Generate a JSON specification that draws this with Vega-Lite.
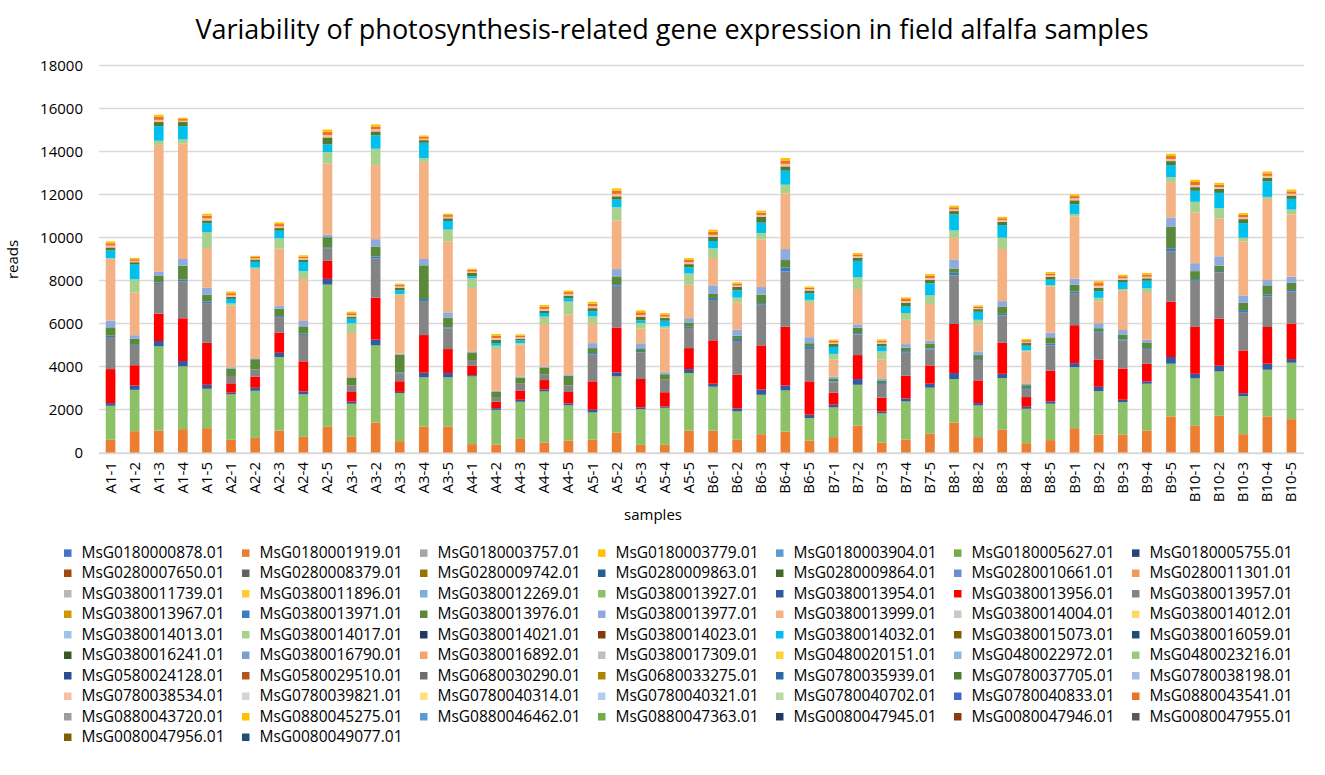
{
  "$schema": "https://vega.github.io/schema/vega-lite/v6.json",
  "description": "Variability of photosynthesis-related gene expression in field alfalfa samples",
  "width": 1205,
  "height": 387.5,
  "autosize": {"type": "none"},
  "padding": {"left": 98.5, "top": 65, "right": 21.5, "bottom": 322.5},
  "background": "white",
  "title": {
    "text": "Variability of photosynthesis-related gene expression in field alfalfa samples",
    "font": "Open Sans",
    "fontSize": 27,
    "fontWeight": "normal",
    "color": "#000000",
    "anchor": "middle",
    "frame": "group",
    "baseline": "alphabetic",
    "dx": -29,
    "offset": -8
  },
  "datasets": {
    "genes": [
      {"k": "g02", "gene": "MsG0180001919.01"},
      {"k": "g18", "gene": "MsG0380013927.01"},
      {"k": "g19", "gene": "MsG0380013954.01"},
      {"k": "g20", "gene": "MsG0380013956.01"},
      {"k": "g21", "gene": "MsG0380013957.01"},
      {"k": "g23", "gene": "MsG0380013971.01"},
      {"k": "g24", "gene": "MsG0380013976.01"},
      {"k": "g25", "gene": "MsG0380013977.01"},
      {"k": "g26", "gene": "MsG0380013999.01"},
      {"k": "g30", "gene": "MsG0380014017.01"},
      {"k": "g33", "gene": "MsG0380014032.01"},
      {"k": "g48", "gene": "MsG0780037705.01"},
      {"k": "g50", "gene": "MsG0780038534.01"},
      {"k": "g56", "gene": "MsG0880043541.01"},
      {"k": "g58", "gene": "MsG0880045275.01"}
    ]
  },
  "data": {
    "values": [
      {"s": "A1-1", "g02": 590, "g18": 1580, "g19": 125, "g20": 1580, "g21": 1490, "g23": 60, "g24": 390, "g25": 310, "g26": 2870, "g30": 30, "g33": 360, "g48": 140, "g50": 85, "g56": 110, "g58": 85},
      {"s": "A1-2", "g02": 990, "g18": 1920, "g19": 200, "g20": 945, "g21": 900, "g23": 45, "g24": 280, "g25": 170, "g26": 1980, "g30": 620, "g33": 680, "g48": 110, "g50": 60, "g56": 80, "g58": 60},
      {"s": "A1-3", "g02": 1010, "g18": 3920, "g19": 250, "g20": 1270, "g21": 1380, "g23": 60, "g24": 310, "g25": 200, "g26": 5890, "g30": 190, "g33": 680, "g48": 190, "g50": 100, "g56": 140, "g58": 100},
      {"s": "A1-4", "g02": 1085, "g18": 2915, "g19": 250, "g20": 1985, "g21": 1720, "g23": 75, "g24": 650, "g25": 310, "g26": 5360, "g30": 190, "g33": 620, "g48": 190, "g50": 60, "g56": 80, "g58": 60},
      {"s": "A1-5", "g02": 1130, "g18": 1830, "g19": 185, "g20": 1950, "g21": 1845, "g23": 75, "g24": 310, "g25": 340, "g26": 1830, "g30": 730, "g33": 430, "g48": 125, "g50": 95, "g56": 125, "g58": 90},
      {"s": "A2-1", "g02": 590, "g18": 2110, "g19": 80, "g20": 435, "g21": 340, "g23": 0, "g24": 325, "g25": 80, "g26": 2870, "g30": 90, "g33": 215, "g48": 90, "g50": 75, "g56": 100, "g58": 75},
      {"s": "A2-2", "g02": 680, "g18": 2185, "g19": 140, "g20": 525, "g21": 325, "g23": 0, "g24": 480, "g25": 45, "g26": 4150, "g30": 60, "g33": 265, "g48": 110, "g50": 50, "g56": 70, "g58": 50},
      {"s": "A2-3", "g02": 1020, "g18": 3410, "g19": 200, "g20": 945, "g21": 715, "g23": 45, "g24": 340, "g25": 125, "g26": 2665, "g30": 480, "g33": 355, "g48": 125, "g50": 80, "g56": 105, "g58": 80},
      {"s": "A2-4", "g02": 730, "g18": 1970, "g19": 140, "g20": 1395, "g21": 1225, "g23": 60, "g24": 340, "g25": 250, "g26": 1950, "g30": 370, "g33": 420, "g48": 110, "g50": 60, "g56": 80, "g58": 60},
      {"s": "A2-5", "g02": 1210, "g18": 6590, "g19": 265, "g20": 835, "g21": 590, "g23": 45, "g24": 465, "g25": 125, "g26": 3300, "g30": 530, "g33": 355, "g48": 325, "g50": 110, "g56": 150, "g58": 110},
      {"s": "A3-1", "g02": 745, "g18": 1520, "g19": 95, "g20": 450, "g21": 310, "g23": 0, "g24": 355, "g25": 30, "g26": 2045, "g30": 450, "g33": 215, "g48": 95, "g50": 70, "g56": 90, "g58": 70},
      {"s": "A3-2", "g02": 1395, "g18": 3580, "g19": 265, "g20": 1955, "g21": 1815, "g23": 95, "g24": 465, "g25": 340, "g26": 3440, "g30": 760, "g33": 620, "g48": 185, "g50": 100, "g56": 130, "g58": 95},
      {"s": "A3-3", "g02": 525, "g18": 2230, "g19": 60, "g20": 495, "g21": 370, "g23": 45, "g24": 820, "g25": 45, "g26": 2730, "g30": 45, "g33": 170, "g48": 125, "g50": 55, "g56": 75, "g58": 55},
      {"s": "A3-4", "g02": 1210, "g18": 2280, "g19": 215, "g20": 1750, "g21": 1580, "g23": 95, "g24": 1565, "g25": 295, "g26": 4510, "g30": 170, "g33": 715, "g48": 125, "g50": 65, "g56": 85, "g58": 65},
      {"s": "A3-5", "g02": 1210, "g18": 2280, "g19": 200, "g20": 1115, "g21": 960, "g23": 45, "g24": 450, "g25": 250, "g26": 3300, "g30": 545, "g33": 400, "g48": 125, "g50": 65, "g56": 85, "g58": 65},
      {"s": "A4-1", "g02": 390, "g18": 3145, "g19": 60, "g20": 450, "g21": 250, "g23": 0, "g24": 355, "g25": 45, "g26": 2945, "g30": 450, "g33": 95, "g48": 155, "g50": 60, "g56": 80, "g58": 60},
      {"s": "A4-2", "g02": 370, "g18": 1610, "g19": 80, "g20": 295, "g21": 185, "g23": 0, "g24": 295, "g25": 30, "g26": 1940, "g30": 155, "g33": 125, "g48": 155, "g50": 80, "g56": 105, "g58": 80},
      {"s": "A4-3", "g02": 635, "g18": 1720, "g19": 95, "g20": 435, "g21": 310, "g23": 0, "g24": 280, "g25": 60, "g26": 1470, "g30": 80, "g33": 125, "g48": 80, "g50": 60, "g56": 80, "g58": 60},
      {"s": "A4-4", "g02": 465, "g18": 2370, "g19": 95, "g20": 435, "g21": 250, "g23": 0, "g24": 310, "g25": 60, "g26": 1985, "g30": 340, "g33": 170, "g48": 110, "g50": 80, "g56": 105, "g58": 80},
      {"s": "A4-5", "g02": 560, "g18": 1630, "g19": 95, "g20": 525, "g21": 310, "g23": 0, "g24": 450, "g25": 60, "g26": 2775, "g30": 605, "g33": 155, "g48": 125, "g50": 70, "g56": 90, "g58": 70},
      {"s": "A5-1", "g02": 605, "g18": 1255, "g19": 125, "g20": 1320, "g21": 1240, "g23": 75, "g24": 230, "g25": 230, "g26": 930, "g30": 310, "g33": 230, "g48": 155, "g50": 90, "g56": 115, "g58": 90},
      {"s": "A5-2", "g02": 930, "g18": 2605, "g19": 185, "g20": 2090, "g21": 1940, "g23": 75, "g24": 355, "g25": 340, "g26": 2265, "g30": 605, "g33": 355, "g48": 155, "g50": 110, "g56": 150, "g58": 110},
      {"s": "A5-3", "g02": 355, "g18": 1660, "g19": 80, "g20": 1320, "g21": 1240, "g23": 60, "g24": 125, "g25": 230, "g26": 680, "g30": 265, "g33": 125, "g48": 155, "g50": 95, "g56": 125, "g58": 90},
      {"s": "A5-4", "g02": 355, "g18": 1720, "g19": 60, "g20": 665, "g21": 605, "g23": 0, "g24": 230, "g25": 95, "g26": 2030, "g30": 95, "g33": 265, "g48": 125, "g50": 70, "g56": 90, "g58": 70},
      {"s": "A5-5", "g02": 1010, "g18": 2680, "g19": 185, "g20": 975, "g21": 930, "g23": 60, "g24": 200, "g25": 200, "g26": 1550, "g30": 525, "g33": 280, "g48": 155, "g50": 85, "g56": 110, "g58": 85},
      {"s": "B6-1", "g02": 1010, "g18": 2045, "g19": 140, "g20": 2015, "g21": 1875, "g23": 95, "g24": 185, "g25": 400, "g26": 1270, "g30": 450, "g33": 340, "g48": 185, "g50": 100, "g56": 140, "g58": 100},
      {"s": "B6-2", "g02": 590, "g18": 1320, "g19": 140, "g20": 1565, "g21": 1565, "g23": 95, "g24": 155, "g25": 280, "g26": 1270, "g30": 215, "g33": 340, "g48": 155, "g50": 65, "g56": 85, "g58": 65},
      {"s": "B6-3", "g02": 850, "g18": 1830, "g19": 250, "g20": 2045, "g21": 1890, "g23": 75, "g24": 390, "g25": 355, "g26": 2215, "g30": 295, "g33": 480, "g48": 265, "g50": 90, "g56": 115, "g58": 90},
      {"s": "B6-4", "g02": 975, "g18": 1905, "g19": 230, "g20": 2730, "g21": 2575, "g23": 185, "g24": 340, "g25": 510, "g26": 2590, "g30": 400, "g33": 650, "g48": 200, "g50": 115, "g56": 160, "g58": 115},
      {"s": "B6-5", "g02": 560, "g18": 1040, "g19": 155, "g20": 1550, "g21": 1505, "g23": 95, "g24": 170, "g25": 280, "g26": 1595, "g30": 140, "g33": 295, "g48": 140, "g50": 55, "g56": 75, "g58": 55},
      {"s": "B7-1", "g02": 715, "g18": 1380, "g19": 125, "g20": 560, "g21": 480, "g23": 45, "g24": 110, "g25": 110, "g26": 790, "g30": 265, "g33": 325, "g48": 140, "g50": 60, "g56": 80, "g58": 60},
      {"s": "B7-2", "g02": 1255, "g18": 1890, "g19": 265, "g20": 1115, "g21": 960, "g23": 60, "g24": 250, "g25": 155, "g26": 1645, "g30": 545, "g33": 760, "g48": 140, "g50": 70, "g56": 90, "g58": 70},
      {"s": "B7-3", "g02": 465, "g18": 1350, "g19": 95, "g20": 635, "g21": 635, "g23": 45, "g24": 125, "g25": 95, "g26": 885, "g30": 370, "g33": 230, "g48": 125, "g50": 60, "g56": 80, "g58": 60},
      {"s": "B7-4", "g02": 605, "g18": 1765, "g19": 140, "g20": 1055, "g21": 1070, "g23": 75, "g24": 155, "g25": 170, "g26": 1130, "g30": 310, "g33": 325, "g48": 155, "g50": 75, "g56": 100, "g58": 75},
      {"s": "B7-5", "g02": 870, "g18": 2140, "g19": 185, "g20": 850, "g21": 745, "g23": 45, "g24": 230, "g25": 125, "g26": 1705, "g30": 400, "g33": 560, "g48": 170, "g50": 80, "g56": 105, "g58": 80},
      {"s": "B8-1", "g02": 1395, "g18": 2015, "g19": 280, "g20": 2280, "g21": 2250, "g23": 125, "g24": 185, "g25": 435, "g26": 1010, "g30": 340, "g33": 745, "g48": 155, "g50": 75, "g56": 100, "g58": 75},
      {"s": "B8-2", "g02": 715, "g18": 1470, "g19": 110, "g20": 1055, "g21": 945, "g23": 45, "g24": 185, "g25": 170, "g26": 1270, "g30": 200, "g33": 370, "g48": 125, "g50": 50, "g56": 70, "g58": 50},
      {"s": "B8-3", "g02": 1055, "g18": 2400, "g19": 200, "g20": 1440, "g21": 1270, "g23": 75, "g24": 325, "g25": 265, "g26": 2420, "g30": 525, "g33": 590, "g48": 155, "g50": 70, "g56": 90, "g58": 70},
      {"s": "B8-4", "g02": 435, "g18": 1595, "g19": 95, "g20": 450, "g21": 370, "g23": 45, "g24": 140, "g25": 80, "g26": 1490, "g30": 45, "g33": 215, "g48": 125, "g50": 55, "g56": 75, "g58": 55},
      {"s": "B8-5", "g02": 575, "g18": 1690, "g19": 110, "g20": 1425, "g21": 1180, "g23": 75, "g24": 295, "g25": 215, "g26": 2155, "g30": 60, "g33": 250, "g48": 125, "g50": 70, "g56": 90, "g58": 70},
      {"s": "B9-1", "g02": 1130, "g18": 2835, "g19": 185, "g20": 1765, "g21": 1490, "g23": 75, "g24": 310, "g25": 280, "g26": 2900, "g30": 110, "g33": 450, "g48": 185, "g50": 85, "g56": 110, "g58": 85},
      {"s": "B9-2", "g02": 835, "g18": 2015, "g19": 200, "g20": 1270, "g21": 1240, "g23": 75, "g24": 140, "g25": 230, "g26": 1025, "g30": 155, "g33": 310, "g48": 155, "g50": 95, "g56": 125, "g58": 90},
      {"s": "B9-3", "g02": 820, "g18": 1520, "g19": 110, "g20": 1455, "g21": 1300, "g23": 60, "g24": 215, "g25": 215, "g26": 1815, "g30": 80, "g33": 325, "g48": 110, "g50": 70, "g56": 90, "g58": 70},
      {"s": "B9-4", "g02": 1025, "g18": 2170, "g19": 110, "g20": 820, "g21": 680, "g23": 45, "g24": 265, "g25": 125, "g26": 2215, "g30": 170, "g33": 355, "g48": 110, "g50": 75, "g56": 100, "g58": 75},
      {"s": "B9-5", "g02": 1675, "g18": 2450, "g19": 310, "g20": 2575, "g21": 2340, "g23": 140, "g24": 990, "g25": 435, "g26": 1645, "g30": 230, "g33": 560, "g48": 185, "g50": 100, "g56": 140, "g58": 100},
      {"s": "B10-1", "g02": 1240, "g18": 2200, "g19": 215, "g20": 2200, "g21": 2125, "g23": 75, "g24": 370, "g25": 370, "g26": 2355, "g30": 495, "g33": 510, "g48": 170, "g50": 100, "g56": 140, "g58": 100},
      {"s": "B10-2", "g02": 1705, "g18": 2060, "g19": 265, "g20": 2185, "g21": 2155, "g23": 60, "g24": 250, "g25": 435, "g26": 1750, "g30": 480, "g33": 715, "g48": 185, "g50": 85, "g56": 110, "g58": 85},
      {"s": "B10-3", "g02": 850, "g18": 1765, "g19": 140, "g20": 1985, "g21": 1780, "g23": 95, "g24": 340, "g25": 340, "g26": 2510, "g30": 170, "g33": 680, "g48": 185, "g50": 85, "g56": 110, "g58": 85},
      {"s": "B10-4", "g02": 1675, "g18": 2170, "g19": 280, "g20": 1705, "g21": 1425, "g23": 75, "g24": 435, "g25": 250, "g26": 3765, "g30": 95, "g33": 715, "g48": 170, "g50": 90, "g56": 115, "g58": 90},
      {"s": "B10-5", "g02": 1550, "g18": 2620, "g19": 170, "g20": 1645, "g21": 1490, "g23": 75, "g24": 340, "g25": 280, "g26": 2885, "g30": 230, "g33": 495, "g48": 155, "g50": 85, "g56": 110, "g58": 85}
    ]
  },
  "transform": [
    {"fold": ["g02", "g18", "g19", "g20", "g21", "g23", "g24", "g25", "g26", "g30", "g33", "g48", "g50", "g56", "g58"], "as": ["k", "v"]},
    {"lookup": "k", "from": {"data": {"name": "genes"}, "key": "k", "fields": ["gene"]}}
  ],
  "mark": {"type": "bar"},
  "encoding": {
    "x": {
      "field": "s",
      "type": "nominal",
      "sort": null,
      "scale": {"paddingInner": 0.6, "paddingOuter": 0.3},
      "axis": {
        "title": "samples",
        "labelAngle": -90,
        "labelFont": "Open Sans",
        "labelFontSize": 15,
        "labelColor": "#000000",
        "labelPadding": 9,
        "ticks": false,
        "domainColor": "#D9D9D9",
        "domainWidth": 1.3,
        "titleFont": "Open Sans",
        "titleFontSize": 15,
        "titleFontWeight": "normal",
        "titleColor": "#000000",
        "titleX": 554,
        "titleY": 62,
        "titleBaseline": "middle"
      }
    },
    "y": {
      "field": "v",
      "type": "quantitative",
      "stack": "zero",
      "scale": {"domain": [0, 18000], "nice": false},
      "axis": {
        "title": "reads",
        "values": [0, 2000, 4000, 6000, 8000, 10000, 12000, 14000, 16000, 18000],
        "format": "d",
        "grid": true,
        "gridColor": "#D9D9D9",
        "gridWidth": 1.3,
        "domain": false,
        "ticks": false,
        "labelPadding": 16,
        "labelFont": "Open Sans",
        "labelFontSize": 15,
        "labelColor": "#000000",
        "titleFont": "Open Sans",
        "titleFontSize": 15,
        "titleFontWeight": "normal",
        "titleColor": "#000000",
        "titleX": -86,
        "titleY": 194,
        "titleAlign": "center",
        "titleBaseline": "middle"
      }
    },
    "color": {
      "field": "gene",
      "type": "nominal",
      "scale": {
        "domain": [
          "MsG0180000878.01", "MsG0180001919.01", "MsG0180003757.01", "MsG0180003779.01", "MsG0180003904.01", "MsG0180005627.01", "MsG0180005755.01",
          "MsG0280007650.01", "MsG0280008379.01", "MsG0280009742.01", "MsG0280009863.01", "MsG0280009864.01", "MsG0280010661.01", "MsG0280011301.01",
          "MsG0380011739.01", "MsG0380011896.01", "MsG0380012269.01", "MsG0380013927.01", "MsG0380013954.01", "MsG0380013956.01", "MsG0380013957.01",
          "MsG0380013967.01", "MsG0380013971.01", "MsG0380013976.01", "MsG0380013977.01", "MsG0380013999.01", "MsG0380014004.01", "MsG0380014012.01",
          "MsG0380014013.01", "MsG0380014017.01", "MsG0380014021.01", "MsG0380014023.01", "MsG0380014032.01", "MsG0380015073.01", "MsG0380016059.01",
          "MsG0380016241.01", "MsG0380016790.01", "MsG0380016892.01", "MsG0380017309.01", "MsG0480020151.01", "MsG0480022972.01", "MsG0480023216.01",
          "MsG0580024128.01", "MsG0580029510.01", "MsG0680030290.01", "MsG0680033275.01", "MsG0780035939.01", "MsG0780037705.01", "MsG0780038198.01",
          "MsG0780038534.01", "MsG0780039821.01", "MsG0780040314.01", "MsG0780040321.01", "MsG0780040702.01", "MsG0780040833.01", "MsG0880043541.01",
          "MsG0880043720.01", "MsG0880045275.01", "MsG0880046462.01", "MsG0880047363.01", "MsG0080047945.01", "MsG0080047946.01", "MsG0080047955.01",
          "MsG0080047956.01", "MsG0080049077.01"
        ],
        "range": [
          "#4472C4", "#ED7D31", "#A5A5A5", "#FFC000", "#5B9BD5", "#70AD47", "#264478",
          "#9E480E", "#636363", "#997300", "#255E91", "#43682B", "#698ED0", "#F1975A",
          "#B7B7B7", "#FFCD33", "#7CAFDD", "#8CC168", "#335AA1", "#FF0000", "#848484",
          "#CC9A00", "#3A7CC4", "#5A8A39", "#8FAADC", "#F4B183", "#C9C9C9", "#FFD966",
          "#9DC3E6", "#A9D18E", "#203864", "#843C0C", "#00C0F0", "#7F6000", "#1F4E79",
          "#385723", "#7C9CD6", "#F3A46F", "#BFBFBF", "#FFD134", "#8DBAE2", "#9BC97D",
          "#2B4C8F", "#B5531A", "#6E6E6E", "#AD8600", "#2B69A5", "#4E7A32", "#A4BBE6",
          "#F6C0A0", "#D4D4D4", "#FFE080", "#B1D0EC", "#B9DAA5", "#3E6CC6", "#EB7126",
          "#9D9D9D", "#FFC000", "#5B9BD5", "#70AD47", "#203864", "#8B3A0C", "#595959",
          "#806000", "#1F4E79"
        ]
      },
      "legend": {
        "title": null,
        "orient": "none",
        "legendX": -38.5,
        "legendY": 480,
        "direction": "horizontal",
        "columns": 7,
        "symbolLimit": 0,
        "symbolType": "square",
        "symbolSize": 56,
        "symbolStrokeWidth": 0,
        "labelFont": "Open Sans",
        "labelFontSize": 15.5,
        "labelColor": "#000000",
        "labelOffset": 6,
        "labelLimit": 220,
        "columnPadding": 13,
        "rowPadding": 3.5,
        "padding": 0
      }
    },
    "order": {"field": "k", "sort": "ascending"}
  },
  "config": {
    "view": {"stroke": null},
    "font": "Open Sans"
  }
}
